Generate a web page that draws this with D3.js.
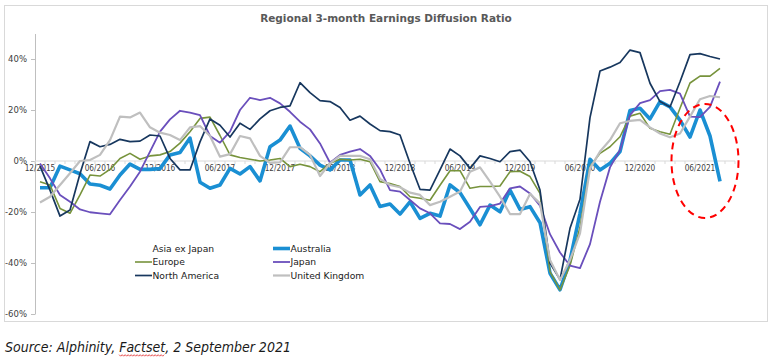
<!DOCTYPE html>
<html>
<head>
<meta charset="utf-8">
<script src="https://cdn.jsdelivr.net/npm/d3@7"></script>
<style>
  body { margin: 0; background: #fff; }
  svg { display: block; }
</style>
</head>
<body>
<svg id="chart" width="776" height="362"></svg>
<script>
// tick labels on the category axis (every 6 months)
var tickLabels = ["12/2015", "06/2016", "12/2016", "06/2017", "12/2017", "06/2018",
  "12/2018", "06/2019", "12/2019", "06/2020", "12/2020", "06/2021"];

var yTicks = [-60, -40, -20, 0, 20, 40];

// monthly values, 12/2015 .. 08/2021 (%)
var australia = [-10.5, -10.5, -2, -3.5, -5, -9, -9.5, -11, -5.5, -1.2, -3.3, -3.3, -3, 2.4, 3.3, 9,
  -8.3, -10.7, -9.4, -2.9, -5.1, -2.2, -7.8, 5.6, 8.2, 13.7, 5, 2, -1.6, -3.5, 0.4, 0.4,
  -13.3, -9.4, -17.8, -16.9, -20.8, -16, -22.5, -20.5, -21.6, -9.4, -12.4, -18.6, -25, -17.3, -19.9, -11.4,
  -19, -17.9, -24.2, -44, -50.5, -39, -20.5, 0.7, -3.5, -0.9, 3.7, 19.8, 20.7, 16.5, 23.3, 21.2,
  16, 9.4, 20, 9.8, -8];

var europe = [-8.1, -9.4, -18.6, -20.5, -13.3, -5.5, -5.9, -3.3, 1, 3, 0.7, 2, 2.4, 3.7, 7, 11.5,
  16.7, 17.2, 10, 2.4, 1.4, 0.7, 0, 0.4, 1, -2.2, -1.3, -2.2, -4.2, -0.9, 0.7, 0.4,
  0.7, -0.3, -8.1, -8.8, -10, -14, -14.6, -15.4, -9.5, -3.8, -3.8, -10.7, -10, -10, -9.8, -4.2,
  -4, -6.1, -12.7, -43.4, -50.6, -41, -26, -2.2, 3, 5.6, 9.5, 17.6, 18.7, 12.8, 11.5, 10.5,
  20.7, 30.6, 33.3, 33.3, 36.3];

var japan = [-1, -6.8, -13.3, -16, -19, -20.1, -20.5, -20.9, -15.3, -10, -4.2, 3.7, 11.5, 16.3, 19.7, 19,
  18, 9.8, 7.2, 11.5, 20, 24.8, 23.9, 24.8, 22.6, 19.3, 15.4, 12.4, 6.9, -0.7, 2.4, 3.7,
  4.7, 2, -3.3, -11.4, -12, -15.3, -18.6, -20.5, -24.5, -24.7, -26.7, -23.8, -18, -17.7, -16.7, -10.7,
  -10, -12.7, -17.5, -28.7, -35.9, -41, -42, -32.6, -16, -2.5, 4.3, 18, 22.7, 23.9, 27.4, 27.9,
  26.4, 17.4, 17.2, 21.2, 31.1];

var northAmerica = [-2, -11.4, -21.6, -19.2, -5, 7.6, 5.6, 6.5, 8.5, 7.6, 7.8, 10.2, 9.8, 1, -3.5, -3.5,
  7.5, 16.5, 14, 9.4, 14.8, 12.4, 16.5, 19.7, 21, 21.6, 30.7, 26.8, 23.7, 23.3, 21, 16,
  17.6, 14.5, 11.9, 11.5, 10.2, -0.9, -11.1, -11.4, -3.5, 4.7, 2, -2.9, 2, 1, -0.3, 3.7,
  4.3, -0.3, -11.4, -40, -46.5, -26.4, -15, 17, 35.3, 36.8, 38.6, 43.5, 42.5, 30.5, 23.3, 21.2,
  31.1, 41.7, 42.1, 41, 40];

var unitedKingdom = [-16.3, -14, -9.4, -4.8, 0, 0.4, 2.4, 8.2, 17.4, 17.1, 19, 13.2, 11.1, 10.2, 8.2, 13.2,
  13.7, 9.8, 1.7, 2.7, 9.8, 8.9, 2, -0.7, -0.5, 5.4, 5.4, 2.4, -5.9, -0.9, 2, 2,
  2, 0.7, -7, -9.4, -10.3, -12.4, -13.3, -17.3, -16, -14, -12, -4.2, -2.5, -8.1, -14, -20.8,
  -20.8, -12.9, -16.6, -38.8, -46.7, -38.8, -28.4, -2.9, 3.7, 8.2, 14.8, 15.7, 16.1, 13.2, 10.8, 9.3,
  10.8, 17.4, 24.2, 25.5, 25];

var seriesNames = ["Asia ex Japan", "Australia", "Europe", "Japan", "North America", "United Kingdom"];

// month categories 12/2015 .. 09/2021 (last one is empty on the axis)
var months = [];
for (var k = 0; k < 70; k++) {
  var m = (11 + k) % 12 + 1;
  var yr = 2015 + Math.floor((11 + k) / 12);
  months.push(("0" + m).slice(-2) + "/" + yr);
}

var series = [
  { name: seriesNames[0], values: [], color: "none", width: 0 },
  { name: seriesNames[1], values: australia, color: "#1A8FD3", width: 3.6 },
  { name: seriesNames[2], values: europe, color: "#77933C", width: 1.6 },
  { name: seriesNames[3], values: japan, color: "#6A4FBC", width: 1.8 },
  { name: seriesNames[4], values: northAmerica, color: "#17375E", width: 1.7 },
  { name: seriesNames[5], values: unitedKingdom, color: "#BFBFBF", width: 2.2 }
];

var svg = d3.select("#chart");
var font = "'DejaVu Sans', Verdana, sans-serif";
var condensed = "'DejaVu Sans Condensed', 'DejaVu Sans', sans-serif";

// outer frame
svg.append("rect")
  .attr("x", 4.5).attr("y", 5.5)
  .attr("width", 763).attr("height", 316)
  .attr("fill", "none")
  .attr("stroke", "#D9D9D9");

// title
svg.append("text")
  .attr("x", 386).attr("y", 22)
  .attr("text-anchor", "middle")
  .style("font-family", font)
  .style("font-size", "10.5px")
  .style("font-weight", "bold")
  .style("fill", "#595959")
  .text("Regional 3-month Earnings Diffusion Ratio");

var x = d3.scaleBand().domain(months).range([35, 735]);
var y = d3.scaleLinear().domain([-60, 50]).range([314, 33.5]);
var bw = x.bandwidth();

// y axis
var yAxis = svg.append("g")
  .attr("transform", "translate(35,0)")
  .call(d3.axisLeft(y).tickValues(yTicks).tickFormat(function (d) { return d + "%"; })
    .tickSize(4).tickSizeOuter(0).tickPadding(4));
yAxis.select(".domain").attr("stroke", "#BFBFBF");
yAxis.selectAll(".tick line").attr("stroke", "#BFBFBF");
yAxis.selectAll("text")
  .style("font-family", font)
  .style("font-size", "8.5px")
  .style("fill", "#404040");

// x axis along the zero line
var xg = svg.append("g").attr("transform", "translate(0," + y(0) + ")");
xg.append("line")
  .attr("x1", 35).attr("x2", 735)
  .attr("stroke", "#D9D9D9");
xg.selectAll(".mtick")
  .data(months.concat(["end"]))
  .enter()
  .append("line")
  .attr("class", "mtick")
  .attr("x1", function (d, i) { return 35 + i * bw; })
  .attr("x2", function (d, i) { return 35 + i * bw; })
  .attr("y1", 0).attr("y2", 3)
  .attr("stroke", "#D9D9D9");
xg.selectAll(".xlab")
  .data(tickLabels)
  .enter()
  .append("text")
  .attr("class", "xlab")
  .attr("x", function (d) { return x(d) + bw / 2; })
  .attr("y", 10)
  .attr("text-anchor", "middle")
  .style("font-family", condensed)
  .style("font-size", "8.2px")
  .style("fill", "#404040")
  .text(function (d) { return d; });

// lines
var line = d3.line()
  .x(function (d, i) { return x(months[i]) + bw / 2; })
  .y(function (d) { return y(d); });

svg.append("g")
  .selectAll("path")
  .data(series.filter(function (s) { return s.values.length; }))
  .enter()
  .append("path")
  .attr("d", function (s) { return line(s.values); })
  .attr("fill", "none")
  .attr("stroke", function (s) { return s.color; })
  .attr("stroke-width", function (s) { return s.width; })
  .attr("stroke-linejoin", "round");

// legend, two columns
var legendCols = [135, 273];
var legendRows = [248.5, 262, 275.5];
var legendItems = svg.append("g")
  .selectAll("g")
  .data(series)
  .enter()
  .append("g")
  .attr("transform", function (d, i) {
    return "translate(" + legendCols[i % 2] + "," + legendRows[Math.floor(i / 2)] + ")";
  });
legendItems.append("line")
  .attr("x1", 0).attr("x2", 17)
  .attr("stroke", function (d) { return d.color; })
  .attr("stroke-width", function (d) { return d.width; });
legendItems.append("text")
  .attr("x", 17.5).attr("dy", "0.35em")
  .style("font-family", font)
  .style("font-size", "9.2px")
  .style("fill", "#1a1a1a")
  .text(function (d) { return d.name; });

// highlight ellipse
svg.append("ellipse")
  .attr("cx", x("07/2021")).attr("cy", y(0))
  .attr("rx", 33.5).attr("ry", 57)
  .attr("fill", "none")
  .attr("stroke", "#FF0000")
  .attr("stroke-width", 2)
  .attr("stroke-dasharray", "7,5");

// source note
var src = svg.append("text")
  .attr("x", 5).attr("y", 352)
  .style("font-family", condensed)
  .style("font-size", "14px")
  .style("font-style", "italic")
  .style("fill", "#1a1a1a")
  .text("Source: Alphinity, Factset, 2 September 2021");

// spell-check squiggle under "Factset"
var node = src.node();
var x0 = node.getStartPositionOfChar(19).x;
var x1 = node.getEndPositionOfChar(25).x;
var pts = [];
for (var px = x0, j = 0; px <= x1; px += 1.5, j++) {
  pts.push([px, 355 + (j % 2 ? 1.2 : -0.3)]);
}
svg.append("path")
  .attr("d", d3.line()(pts))
  .attr("fill", "none")
  .attr("stroke", "#E02020")
  .attr("stroke-width", 0.8);
</script>
</body>
</html>
